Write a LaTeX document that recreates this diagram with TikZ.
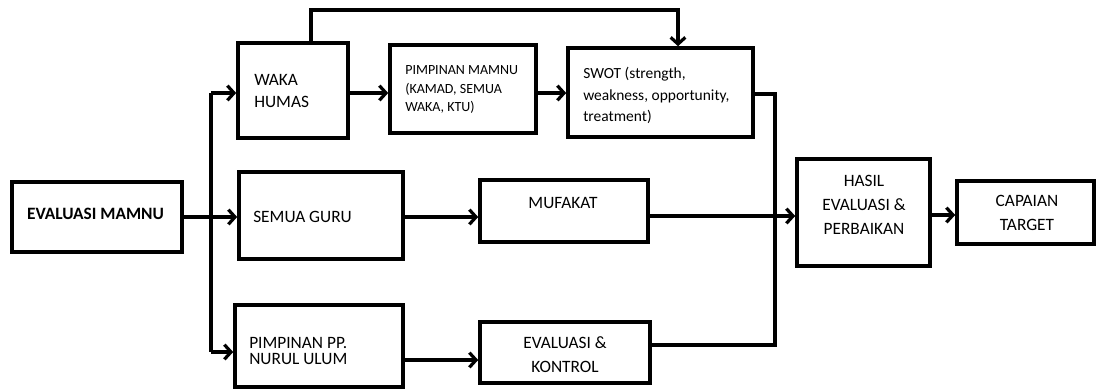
\documentclass[tikz,border=0pt]{standalone}
\usepackage{fontspec}
\setmainfont{Carlito}
\usetikzlibrary{arrows.meta}

\tikzset{
  box/.style={draw, line width=2.7pt, rectangle, inner sep=0pt},
  txt/.style={inner sep=0pt, align=left, font=\fontsize{13}{16.5}\selectfont},
  ctxt/.style={inner sep=0pt, align=center, font=\fontsize{13}{18}\selectfont},
  link/.style={line width=2.4pt},
  arr/.style={link, -{Straight Barb[length=5pt, width=11pt, line width=2.4pt]}}
}

\begin{document}
\begin{tikzpicture}[x=0.75pt, y=-0.75pt]
  % page frame
  \useasboundingbox (0,0) rectangle (1097,389);

  % boxes
  \node[box, minimum width=170*0.75pt, minimum height=70*0.75pt] (evalM) at (97,217) {};
  \node[box, minimum width=110*0.75pt, minimum height=95*0.75pt] (waka) at (293,90.5) {};
  \node[box, minimum width=146*0.75pt, minimum height=88*0.75pt] (pm) at (463,89) {};
  \node[box, minimum width=185*0.75pt, minimum height=89*0.75pt] (swot) at (660.5,92.5) {};
  \node[box, minimum width=164*0.75pt, minimum height=87*0.75pt] (sg) at (321,215.5) {};
  \node[box, minimum width=168*0.75pt, minimum height=62*0.75pt] (muf) at (564,211) {};
  \node[box, minimum width=168*0.75pt, minimum height=82*0.75pt] (ppn) at (319,346) {};
  \node[box, minimum width=170*0.75pt, minimum height=61*0.75pt] (ek) at (565,352.5) {};
  \node[box, minimum width=133*0.75pt, minimum height=107*0.75pt] (hasil) at (863.5,212.5) {};
  \node[box, minimum width=137*0.75pt, minimum height=63*0.75pt] (cap) at (1025.5,212.5) {};

  % texts
  \node[ctxt, font=\fontsize{13}{16}\selectfont\bfseries] (evalMT) at (95.5,214) {EVALUASI MAMNU};
  \node[txt, anchor=west] (wakaT) at (254,91) {WAKA\\HUMAS};
  \node[txt, anchor=west, font=\fontsize{10.5}{14}\selectfont] (pmT) at (405,89.5) {PIMPINAN MAMNU\\(KAMAD, SEMUA\\WAKA, KTU)};
  \node[txt, anchor=west, font=\fontsize{11.6}{16}\selectfont] (swotT) at (583,95.5) {SWOT (strength,\\weakness, opportunity,\\treatment)};
  \node[txt, anchor=west] (sgT) at (253,217) {SEMUA GURU};
  \node[ctxt] (mufT) at (563,203) {MUFAKAT};
  \node[txt, anchor=west, font=\fontsize{13}{12}\selectfont] (ppnT) at (249,351) {PIMPINAN PP.\\NURUL ULUM};
  \node[ctxt] (ekT) at (565,355) {EVALUASI \&\\KONTROL};
  \node[ctxt] (hasilT) at (864,204.5) {HASIL\\EVALUASI \&\\PERBAIKAN};
  \node[ctxt] (capT) at (1027,213) {CAPAIAN\\TARGET};

  % routing points
  \coordinate (trTop) at (211,93);
  \coordinate (trBot) at (211,352);
  \coordinate (up1) at (311,10);
  \coordinate (up2) at (678,10);
  \coordinate (busTop) at (775,94);
  \coordinate (busBot) at (775,345);
  \coordinate (midRow) at (775,216);

  % left trunk from EVALUASI MAMNU
  \draw[link] (trTop) -- (trBot);
  \draw[arr] (evalM.east) -- (evalM.east -| sg.west);
  \draw[arr] (trTop) -- (trTop -| waka.west);
  \draw[arr] (trBot) -- (trBot -| ppn.west);

  % top row
  \draw[arr] (waka.east |- trTop) -- (pm.west |- trTop);
  \draw[arr] (pm.east |- trTop) -- (swot.west |- trTop);
  \draw[arr] (waka.north -| up1) -- (up1) -- (up2) -- (up2 |- swot.north);

  % middle and bottom rows
  \draw[arr] (sg.east |- evalM.east) -- (muf.west |- evalM.east);
  \draw[arr] (ppn.east |- 0,360) -- (ek.west |- 0,360);

  % collecting bus into HASIL
  \draw[link] (swot.east |- busTop) -- (busTop) -- (busBot) -- (busBot -| ek.east);
  \draw[arr] (muf.east |- midRow) -- (hasil.west |- midRow);
  \draw[arr] (hasil.east |- 0,215) -- (cap.west |- 0,215);
\end{tikzpicture}
\end{document}
